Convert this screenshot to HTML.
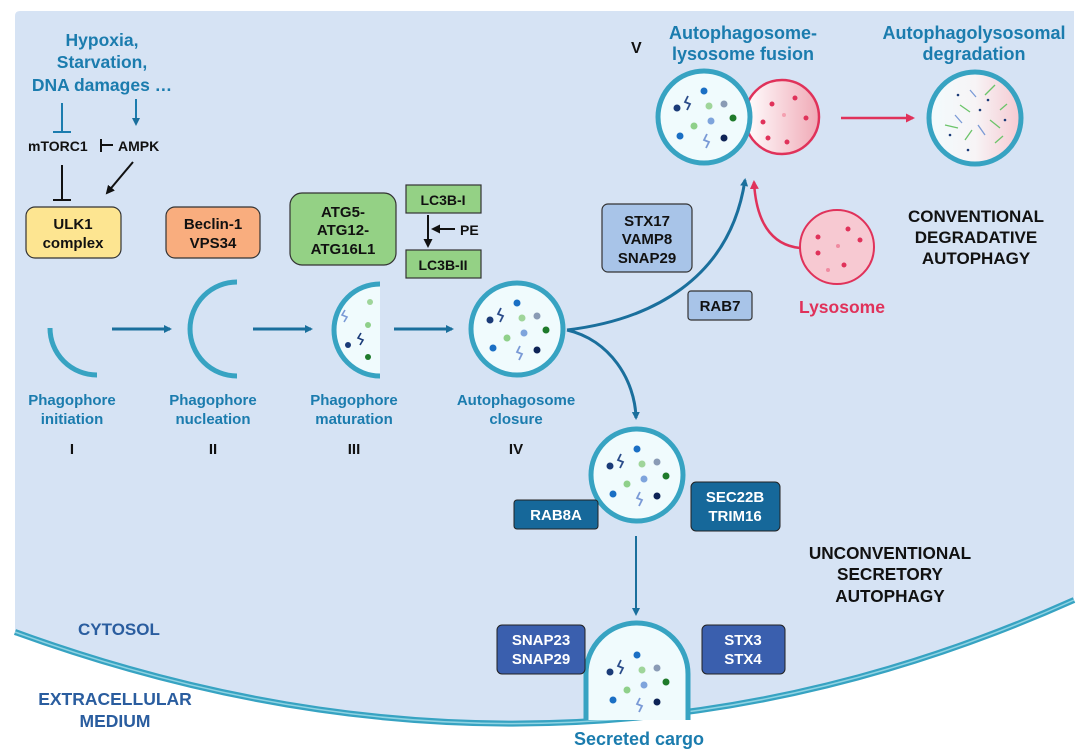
<!DOCTYPE html>
<html><head><meta charset="utf-8"><style>
html,body{margin:0;padding:0;background:#fff}
svg{display:block}
text{font-family:"Liberation Sans",Arial,sans-serif;font-weight:bold}
.b{fill:#1b7cae}
.k{fill:#111}
.t{fill:#1b7cae}
</style></head><body>
<svg width="1087" height="755" viewBox="0 0 1087 755" xmlns="http://www.w3.org/2000/svg" font-size="14">
<defs>
<marker id="ab" markerWidth="8" markerHeight="8" refX="6" refY="4" orient="auto" markerUnits="userSpaceOnUse"><path d="M0,0 L8,4 L0,8 z" fill="#1a6f9c"/></marker>
<marker id="ak" markerWidth="9" markerHeight="9" refX="7" refY="4.5" orient="auto" markerUnits="userSpaceOnUse"><path d="M0,0 L9,4.5 L0,9 z" fill="#111"/></marker>
<marker id="ar" markerWidth="9" markerHeight="9" refX="7" refY="4.5" orient="auto" markerUnits="userSpaceOnUse"><path d="M0,0 L9,4.5 L0,9 z" fill="#e0325a"/></marker>
<linearGradient id="pk" x1="0" x2="1"><stop offset="0" stop-color="#fff"/><stop offset="1" stop-color="#f0a9b6"/></linearGradient>
<linearGradient id="dg" x1="0" x2="1"><stop offset="0" stop-color="#f2fbfd"/><stop offset="0.5" stop-color="#f7f4f6"/><stop offset="1" stop-color="#f6c9d1"/></linearGradient>
<g id="cargo">
<circle cx="-27" cy="-10" r="3.5" fill="#1a3b78"/><circle cx="0" cy="-27" r="3.5" fill="#1a6fc4"/>
<circle cx="5" cy="-12" r="3.5" fill="#9fd59a"/><circle cx="20" cy="-14" r="3.5" fill="#8a9bb5"/>
<circle cx="29" cy="0" r="3.5" fill="#1e7a2a"/><circle cx="-10" cy="8" r="3.5" fill="#8fd08a"/>
<circle cx="7" cy="3" r="3.5" fill="#7ea4dc"/><circle cx="-24" cy="18" r="3.5" fill="#1a6fc4"/>
<circle cx="20" cy="20" r="3.5" fill="#0d2356"/>
<path d="M-16,-22 l-3,6 l5,2 l-3,6" stroke="#2b4c8a" stroke-width="1.8" fill="none"/>
<path d="M3,16 l-3,6 l5,2 l-3,6" stroke="#7a9ad6" stroke-width="1.8" fill="none"/>
</g>
</defs>
<path d="M15,16 Q15,11 20,11 L1074,11 L1074,600 Q560,830 15,632 Z" fill="#d6e3f4"/>
<path d="M15,632 Q560,830 1074,600" fill="none" stroke="#37a3c2" stroke-width="6"/>
<path d="M15,632 Q560,830 1074,600" fill="none" stroke="#8fd3e3" stroke-width="1.5"/>

<text class="t" font-size="17.5" text-anchor="middle" x="102" y="46">Hypoxia,</text>
<text class="t" font-size="17.5" text-anchor="middle" x="102" y="68">Starvation,</text>
<text class="t" font-size="17.5" text-anchor="middle" x="102" y="91">DNA damages  …</text>
<line x1="62" y1="103" x2="62" y2="131" stroke="#1b7cae" stroke-width="2"/>
<line x1="53" y1="132" x2="71" y2="132" stroke="#1b7cae" stroke-width="2"/>
<line x1="136" y1="99" x2="136" y2="124" stroke="#1b7cae" stroke-width="2" marker-end="url(#ab)"/>
<text class="k" x="28" y="151">mTORC1</text>
<line x1="101" y1="139" x2="101" y2="152" stroke="#111" stroke-width="2"/>
<line x1="101" y1="145" x2="113" y2="145" stroke="#111" stroke-width="2"/>
<text class="k" x="118" y="151">AMPK</text>
<line x1="62" y1="165" x2="62" y2="199" stroke="#111" stroke-width="2"/>
<line x1="53" y1="200" x2="71" y2="200" stroke="#111" stroke-width="2"/>
<line x1="133" y1="162" x2="107" y2="193" stroke="#111" stroke-width="2" marker-end="url(#ak)"/>

<rect x="26" y="207" width="95" height="51" rx="9" fill="#fde591" stroke="#333" stroke-width="1.2"/>
<text class="k" text-anchor="middle" x="73" y="229" font-size="15">ULK1</text>
<text class="k" text-anchor="middle" x="73" y="248" font-size="15">complex</text>
<rect x="166" y="207" width="94" height="51" rx="9" fill="#f9ad7e" stroke="#333" stroke-width="1.2"/>
<text class="k" text-anchor="middle" x="213" y="229" font-size="15">Beclin-1</text>
<text class="k" text-anchor="middle" x="213" y="248" font-size="15">VPS34</text>
<rect x="290" y="193" width="106" height="72" rx="12" fill="#94d185" stroke="#333" stroke-width="1.2"/>
<text class="k" text-anchor="middle" x="343" y="217" font-size="15">ATG5-</text>
<text class="k" text-anchor="middle" x="343" y="235" font-size="15">ATG12-</text>
<text class="k" text-anchor="middle" x="343" y="254" font-size="15">ATG16L1</text>
<rect x="406" y="185" width="75" height="28" fill="#94d185" stroke="#333" stroke-width="1.2"/>
<text class="k" text-anchor="middle" x="443" y="205">LC3B-I</text>
<rect x="406" y="250" width="75" height="28" fill="#94d185" stroke="#333" stroke-width="1.2"/>
<text class="k" text-anchor="middle" x="443" y="270">LC3B-II</text>
<line x1="428" y1="215" x2="428" y2="246" stroke="#111" stroke-width="2" marker-end="url(#ak)"/>
<line x1="455" y1="229" x2="433" y2="229" stroke="#111" stroke-width="2" marker-end="url(#ak)"/>
<text class="k" x="460" y="235">PE</text>

<path d="M50,328 A47,47 0 0 0 97,375" fill="none" stroke="#37a3c2" stroke-width="5"/>
<path d="M237,282 A47,47 0 0 0 237,376" fill="none" stroke="#37a3c2" stroke-width="5"/>
<path d="M380,284 A46,46 0 0 0 380,376 Z" fill="#f0fbfd"/>
<path d="M380,284 A46,46 0 0 0 380,376" fill="none" stroke="#37a3c2" stroke-width="5"/>
<circle cx="370" cy="302" r="3" fill="#9fd59a"/><circle cx="368" cy="325" r="3" fill="#8fd08a"/>
<circle cx="348" cy="345" r="3" fill="#1a3b78"/><circle cx="368" cy="357" r="3" fill="#1e7a2a"/>
<path d="M345,310 l-3,5 l5,2 l-3,5" stroke="#7a9ad6" stroke-width="1.6" fill="none"/>
<path d="M361,333 l-3,5 l5,2 l-3,5" stroke="#1a3b78" stroke-width="1.6" fill="none"/>
<circle cx="517" cy="329" r="46" fill="#f0fbfd" stroke="#37a3c2" stroke-width="5"/>
<use href="#cargo" x="517" y="330"/>
<line x1="112" y1="329" x2="170" y2="329" stroke="#1a6f9c" stroke-width="3" marker-end="url(#ab)"/>
<line x1="253" y1="329" x2="311" y2="329" stroke="#1a6f9c" stroke-width="3" marker-end="url(#ab)"/>
<line x1="394" y1="329" x2="452" y2="329" stroke="#1a6f9c" stroke-width="3" marker-end="url(#ab)"/>

<g font-size="15">
<text class="b" text-anchor="middle" x="72" y="405">Phagophore</text>
<text class="b" text-anchor="middle" x="72" y="424">initiation</text>
<text class="b" text-anchor="middle" x="213" y="405">Phagophore</text>
<text class="b" text-anchor="middle" x="213" y="424">nucleation</text>
<text class="b" text-anchor="middle" x="354" y="405">Phagophore</text>
<text class="b" text-anchor="middle" x="354" y="424">maturation</text>
<text class="b" text-anchor="middle" x="516" y="405">Autophagosome</text>
<text class="b" text-anchor="middle" x="516" y="424">closure</text>
<text class="k" text-anchor="middle" x="72" y="454">I</text>
<text class="k" text-anchor="middle" x="213" y="454">II</text>
<text class="k" text-anchor="middle" x="354" y="454">III</text>
<text class="k" text-anchor="middle" x="516" y="454">IV</text>
</g>

<text class="k" x="631" y="53" font-size="16">V</text>
<text class="t" font-size="18" text-anchor="middle" x="743" y="39">Autophagosome-</text>
<text class="t" font-size="18" text-anchor="middle" x="743" y="60">lysosome fusion</text>
<text class="t" font-size="18" text-anchor="middle" x="974" y="39">Autophagolysosomal</text>
<text class="t" font-size="18" text-anchor="middle" x="974" y="60">degradation</text>
<circle cx="782" cy="117" r="37" fill="url(#pk)" stroke="#e0325a" stroke-width="2.5"/>
<g fill="#e0325a"><circle cx="772" cy="104" r="2.5"/><circle cx="795" cy="98" r="2.5"/><circle cx="763" cy="122" r="2.5"/><circle cx="806" cy="118" r="2.5"/><circle cx="787" cy="142" r="2.5"/><circle cx="768" cy="138" r="2.5"/><circle cx="784" cy="115" r="2" fill="#f4a0b0"/></g>
<circle cx="704" cy="117" r="46" fill="#f0fbfd" stroke="#37a3c2" stroke-width="5"/>
<use href="#cargo" x="704" y="118"/>
<line x1="841" y1="118" x2="913" y2="118" stroke="#e0325a" stroke-width="2.5" marker-end="url(#ar)"/>
<circle cx="975" cy="118" r="46" fill="url(#dg)" stroke="#37a3c2" stroke-width="5"/>
<g stroke-width="1.3">
<line x1="945" y1="125" x2="958" y2="128" stroke="#6cc46a"/><line x1="960" y1="105" x2="970" y2="112" stroke="#6cc46a"/>
<line x1="985" y1="95" x2="995" y2="85" stroke="#6cc46a"/><line x1="965" y1="140" x2="972" y2="130" stroke="#6cc46a"/>
<line x1="990" y1="120" x2="1000" y2="128" stroke="#6cc46a"/><line x1="955" y1="115" x2="962" y2="123" stroke="#7a9ad6"/>
<line x1="978" y1="125" x2="985" y2="135" stroke="#7a9ad6"/><line x1="1000" y1="110" x2="1007" y2="104" stroke="#6cc46a"/>
<line x1="970" y1="90" x2="976" y2="97" stroke="#7a9ad6"/><line x1="995" y1="143" x2="1003" y2="136" stroke="#6cc46a"/>
</g>
<g fill="#1a3b78"><circle cx="958" cy="95" r="1.3"/><circle cx="980" cy="110" r="1.3"/><circle cx="968" cy="150" r="1.3"/><circle cx="1005" cy="120" r="1.3"/><circle cx="950" cy="135" r="1.3"/><circle cx="988" cy="100" r="1.3"/></g>

<path d="M567,330 C650,320 730,280 745,180" fill="none" stroke="#1a6f9c" stroke-width="3" marker-end="url(#ab)"/>
<path d="M800,248 C770,245 756,220 754,182" fill="none" stroke="#e0325a" stroke-width="2.5" marker-end="url(#ar)"/>
<path d="M567,330 C610,340 635,380 636,418" fill="none" stroke="#1a6f9c" stroke-width="3" marker-end="url(#ab)"/>
<circle cx="837" cy="247" r="37" fill="#f7c9d2" stroke="#e0325a" stroke-width="2"/>
<g fill="#e0325a"><circle cx="818" cy="237" r="2.5"/><circle cx="848" cy="229" r="2.5"/><circle cx="860" cy="240" r="2.5"/><circle cx="818" cy="253" r="2.5"/><circle cx="844" cy="265" r="2.5"/><circle cx="828" cy="270" r="2" fill="#f08aa0"/><circle cx="838" cy="246" r="2" fill="#f08aa0"/></g>
<text text-anchor="middle" x="842" y="313" font-size="17.5" fill="#e0325a">Lysosome</text>
<rect x="602" y="204" width="90" height="68" rx="6" fill="#a8c4e8" stroke="#333" stroke-width="1.2"/>
<text class="k" text-anchor="middle" x="647" y="226" font-size="15">STX17</text>
<text class="k" text-anchor="middle" x="647" y="244" font-size="15">VAMP8</text>
<text class="k" text-anchor="middle" x="647" y="263" font-size="15">SNAP29</text>
<rect x="688" y="291" width="64" height="29" rx="3" fill="#a8c4e8" stroke="#333" stroke-width="1.2"/>
<text class="k" text-anchor="middle" x="720" y="311" font-size="15">RAB7</text>
<text class="k" text-anchor="middle" x="976" y="222" font-size="17">CONVENTIONAL</text>
<text class="k" text-anchor="middle" x="976" y="243" font-size="17">DEGRADATIVE</text>
<text class="k" text-anchor="middle" x="976" y="264" font-size="17">AUTOPHAGY</text>

<circle cx="637" cy="475" r="46" fill="#f0fbfd" stroke="#37a3c2" stroke-width="5"/>
<use href="#cargo" x="637" y="476"/>
<rect x="514" y="500" width="84" height="29" rx="3" fill="#16689a" stroke="#222" stroke-width="1"/>
<text text-anchor="middle" x="556" y="520" font-size="15" fill="#fff">RAB8A</text>
<rect x="691" y="482" width="89" height="49" rx="5" fill="#16689a" stroke="#222" stroke-width="1"/>
<text text-anchor="middle" x="735" y="502" font-size="15" fill="#fff">SEC22B</text>
<text text-anchor="middle" x="735" y="521" font-size="15" fill="#fff">TRIM16</text>
<line x1="636" y1="536" x2="636" y2="614" stroke="#1a6f9c" stroke-width="2" marker-end="url(#ab)"/>
<text class="k" text-anchor="middle" x="890" y="559" font-size="17.2">UNCONVENTIONAL</text>
<text class="k" text-anchor="middle" x="890" y="580" font-size="17.2">SECRETORY</text>
<text class="k" text-anchor="middle" x="890" y="602" font-size="17.2">AUTOPHAGY</text>
<text x="78" y="635" font-size="17" fill="#2a5d9f">CYTOSOL</text>
<text text-anchor="middle" x="115" y="705" font-size="17.5" fill="#2a5d9f">EXTRACELLULAR</text>
<text text-anchor="middle" x="115" y="727" font-size="17.5" fill="#2a5d9f">MEDIUM</text>
<path d="M586,720 L586,674 A51,51 0 0 1 688,674 L688,720 Z" fill="#f0fbfd"/>
<path d="M586,720 L586,674 A51,51 0 0 1 688,674 L688,720" fill="none" stroke="#37a3c2" stroke-width="5"/>
<use href="#cargo" x="637" y="682"/>
<rect x="497" y="625" width="88" height="49" rx="5" fill="#3a5fae" stroke="#222" stroke-width="1"/>
<text text-anchor="middle" x="541" y="645" font-size="15" fill="#fff">SNAP23</text>
<text text-anchor="middle" x="541" y="664" font-size="15" fill="#fff">SNAP29</text>
<rect x="702" y="625" width="83" height="49" rx="5" fill="#3a5fae" stroke="#222" stroke-width="1"/>
<text text-anchor="middle" x="743" y="645" font-size="15" fill="#fff">STX3</text>
<text text-anchor="middle" x="743" y="664" font-size="15" fill="#fff">STX4</text>
<text class="t" font-size="18" text-anchor="middle" x="639" y="745">Secreted cargo</text>
</svg>
</body></html>
